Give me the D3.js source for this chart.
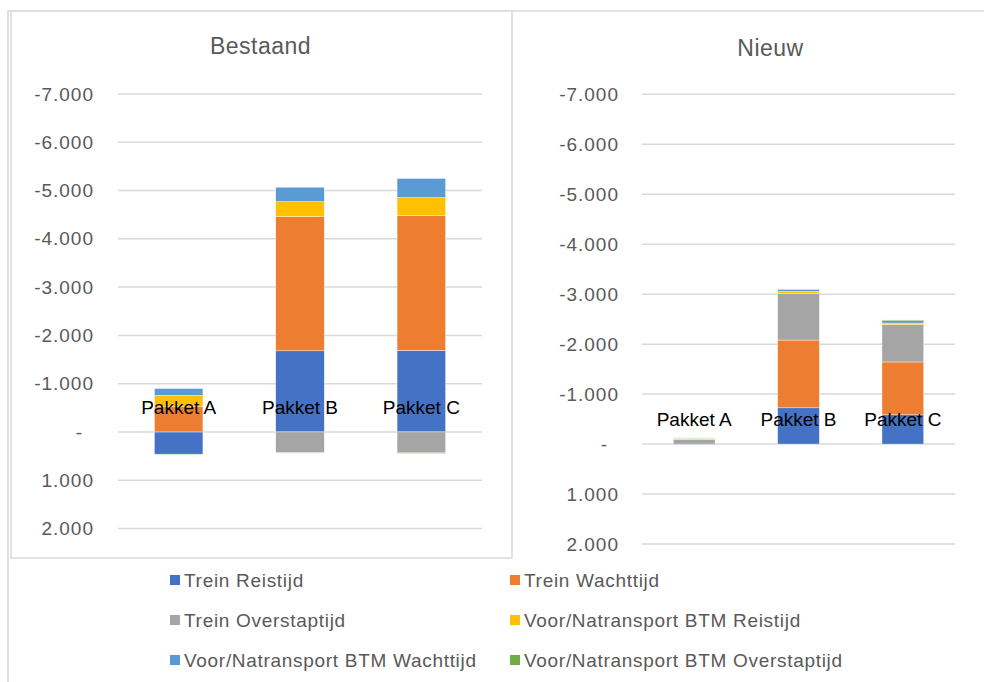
<!DOCTYPE html>
<html>
<head>
<meta charset="utf-8">
<script src="https://cdn.jsdelivr.net/npm/d3@7"></script>
<style>
    body{margin:0;background:#fff;}
    svg text{font-family:"Liberation Sans",Arial,sans-serif;}
</style>
</head>
<body>
<div id="canvas" class="canvas"></div>
<script>
//data (negative values are drawn upwards, axis is reversed)
var categories = ["Pakket A","Pakket B","Pakket C"];
var seriesNames = ["Trein Reistijd","Trein Wachttijd","Trein Overstaptijd",
    "Voor/Natransport BTM Reistijd","Voor/Natransport BTM Wachttijd","Voor/Natransport BTM Overstaptijd"];
var seriesColors = ["#4472C4","#ED7D31","#A5A5A5","#FFC000","#5B9BD5","#70AD47"];
var tickValues = [-7000,-6000,-5000,-4000,-3000,-2000,-1000,0,1000,2000];

var bestaandTreinReistijd = [460,-1680,-1690];
var bestaandTreinWachttijd = [-520,-2780,-2790];
var bestaandTreinOverstaptijd = [0,428,435];
var bestaandBtmReistijd = [-235,-310,-375];
var bestaandBtmWachttijd = [-145,-300,-395];
var bestaandBtmOverstaptijd = [15,10,10];

var nieuwTreinReistijd = [10,-725,-585];
var nieuwTreinWachttijd = [0,-1357,-1058];
var nieuwTreinOverstaptijd = [-90,-938,-746];
var nieuwBtmReistijd = [-15,-33,-33];
var nieuwBtmWachttijd = [-10,-40,-47];
var nieuwBtmOverstaptijd = [-8,-8,-15];

function buildTable(cols){
    return categories.map(function(c,i){
        var row = {cat:c};
        seriesNames.forEach(function(s,j){ row[s] = cols[j][i]; });
        return row;
    });
}

var charts = [
    {title:"Bestaand", titleX:260.5, titleY:54, x0:118, x1:482, y0:94, y1:528.5, labelX:94,
        rows:buildTable([bestaandTreinReistijd,bestaandTreinWachttijd,bestaandTreinOverstaptijd,
            bestaandBtmReistijd,bestaandBtmWachttijd,bestaandBtmOverstaptijd])},
    {title:"Nieuw", titleX:770.5, titleY:56, x0:642, x1:955, y0:94.3, y1:544, labelX:619,
        rows:buildTable([nieuwTreinReistijd,nieuwTreinWachttijd,nieuwTreinOverstaptijd,
            nieuwBtmReistijd,nieuwBtmWachttijd,nieuwBtmOverstaptijd])}
];

var nl = d3.formatLocale({decimal:",",thousands:".",grouping:[3],currency:["€",""],minus:"-"});
var fmt = nl.format(",");

var svg = d3.select('.canvas')
    .append('svg')
    .attr('width',984)
    .attr('height',682);

//frames
svg.append('path')
    .attr('d','M8,682V11H984')
    .style('fill','none')
    .style('stroke','#d9d9d9')
    .style('stroke-width',1.5);
svg.append('rect')
    .attr('x',11).attr('y',11)
    .attr('width',501).attr('height',547)
    .style('fill','#fff')
    .style('stroke','#d9d9d9')
    .style('stroke-width',1.5);

var stack = d3.stack().keys(seriesNames).offset(d3.stackOffsetDiverging);

charts.forEach(function(c){
    var y = d3.scaleLinear().domain([-7000,2000]).range([c.y0,c.y1]);
    var x = d3.scaleBand().domain(categories).range([c.x0,c.x1])
        .paddingInner(0.6).paddingOuter(0.3);

    var g = svg.append('g');

    g.append('text')
        .attr('x',c.titleX).attr('y',c.titleY)
        .attr('text-anchor','middle')
        .style('font-size','23px')
        .style('letter-spacing','0.5px')
        .style('fill','#595959')
        .text(c.title);

    g.selectAll('.grid')
        .data(tickValues)
        .enter()
        .append('line')
        .attr('class','grid')
        .attr('x1',c.x0).attr('x2',c.x1)
        .attr('y1',function(d){return y(d)})
        .attr('y2',function(d){return y(d)})
        .style('stroke','#d9d9d9')
        .style('stroke-width',1.5);

    var yAxis = g.append('g')
        .attr('transform','translate(' + c.x0 + ',0)')
        .call(d3.axisLeft(y).tickValues(tickValues).tickSize(0)
            .tickPadding(c.x0 - c.labelX)
            .tickFormat(function(d){ return d === 0 ? '-' : fmt(d); }));
    yAxis.select('.domain').remove();
    yAxis.selectAll('text')
        .style('font-size','19px')
        .style('letter-spacing','1px')
        .style('fill','#595959')
        .attr('dx',function(d){ return d === 0 ? -11 : 0; });

    var layers = stack(c.rows);
    g.selectAll('.layer')
        .data(layers)
        .enter()
        .append('g')
        .attr('class','layer')
        .style('fill',function(d,i){return seriesColors[i]})
        .selectAll('rect')
        .data(function(d){return d})
        .enter()
        .append('rect')
        .attr('x',function(d){return x(d.data.cat)})
        .attr('width',x.bandwidth())
        .attr('y',function(d){return Math.min(y(d[0]),y(d[1]))})
        .attr('height',function(d){return Math.abs(y(d[1]) - y(d[0]))})
        .style('stroke','#fff')
        .style('stroke-width',0.4);

    var xAxis = g.append('g')
        .attr('transform','translate(0,' + y(0) + ')')
        .call(d3.axisTop(x).tickSize(0).tickPadding(18));
    xAxis.select('.domain').remove();
    xAxis.selectAll('text')
        .style('font-size','19px')
        .style('fill','#000');
});

//legend
var legendX = [170,510];
var legend = svg.selectAll('.legend')
    .data(seriesNames)
    .enter()
    .append('g')
    .attr('class','legend')
    .attr('transform',function(d,i){
        return 'translate(' + legendX[i % 2] + ',' + (580 + Math.floor(i/2)*40) + ')';
    });
legend.append('rect')
    .attr('x',0).attr('y',-5)
    .attr('width',10).attr('height',10)
    .style('fill',function(d,i){return seriesColors[i]});
legend.append('text')
    .attr('x',14).attr('dy','0.35em')
    .style('font-size','19px')
    .style('letter-spacing','0.7px')
    .style('fill','#595959')
    .text(function(d){return d});
</script>
</body>
</html>
